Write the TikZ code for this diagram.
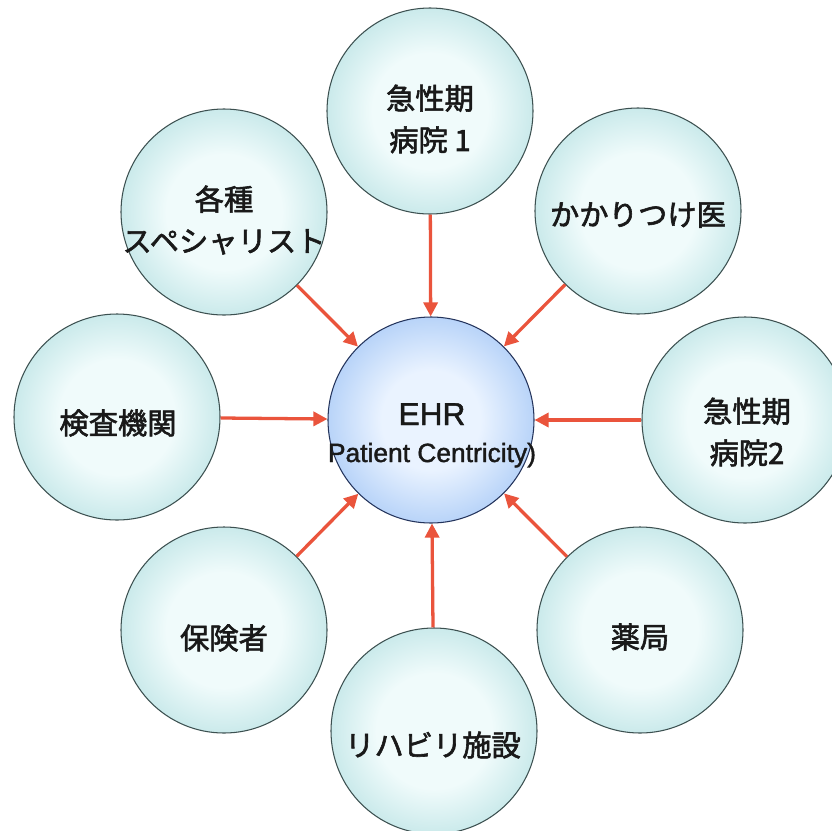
\documentclass[tikz,border=0pt]{standalone}
\usepackage{fontspec}
\setmainfont{Noto Sans CJK JP}[FakeBold=2]
\newfontfamily\latinsans{Liberation Sans}[FakeBold=1.5]
\usetikzlibrary{arrows.meta}
\definecolor{tealedge}{RGB}{120,184,188}
\definecolor{tealmid}{RGB}{172,220,222}
\definecolor{tealin}{RGB}{240,251,251}
\definecolor{ballline}{RGB}{60,80,80}
\definecolor{blueedge}{RGB}{86,136,226}
\definecolor{bluemid}{RGB}{150,190,244}
\definecolor{bluein}{RGB}{234,243,255}
\definecolor{blueline}{RGB}{36,52,92}
\definecolor{arrowred}{RGB}{234,84,60}
\definecolor{txtcol}{RGB}{25,25,25}
\pgfdeclareradialshading{tealball}{\pgfpoint{0bp}{0bp}}{color(0bp)=(tealin); color(14bp)=(tealin); color(34bp)=(tealmid); color(50bp)=(tealedge)}
\pgfdeclareradialshading{blueball}{\pgfpoint{0bp}{0bp}}{color(0bp)=(bluein); color(12bp)=(bluein); color(34bp)=(bluemid); color(50bp)=(blueedge)}
\tikzset{
  ball/.style={circle, draw=ballline, line width=0.9pt, minimum size=6.18cm, inner sep=0pt, shade, shading=tealball},
  hub/.style={circle, draw=blueline, line width=0.9pt, minimum size=6.18cm, inner sep=0pt, shade, shading=blueball},
  lbl/.style={font=\fontsize{25pt}{35.5pt}\selectfont, text=txtcol, align=center, inner sep=0pt},
  hubtxt/.style={font=\latinsans\fontsize{27pt}{30pt}\selectfont, text=txtcol, inner sep=0pt, anchor=base},
  hubsub/.style={font=\latinsans\fontsize{22.5pt}{26pt}\selectfont, text=txtcol, inner sep=0pt, anchor=base},
  flow/.style={draw=arrowred, line width=2.8pt, -{Triangle[length=12pt,width=12pt]}}
}
\begin{document}
\begin{tikzpicture}[x=0.03cm,y=-0.03cm]
\useasboundingbox (0,0) rectangle (832,830);
\fill[white] (0,0) rectangle (832,830);
\clip (0,0) rectangle (832,830);
% circles
\node[hub]  (c)  at (431,420) {};
\node[ball] (n1) at (430,111) {};
\node[ball] (n2) at (638,211) {};
\node[ball] (n3) at (745,420) {};
\node[ball] (n4) at (640,630) {};
\node[ball] (n5) at (434,731) {};
\node[ball] (n6) at (224,630) {};
\node[ball] (n7) at (117,417) {};
\node[ball] (n8) at (224,212) {};
% arrows
\foreach \n in {n1,n2,n3,n4,n5,n6,n7,n8} \draw[flow] (\n) -- (c);
% labels
\node[lbl] (t1) at (430,119) {急性期\\病院 1};
\node[lbl] (t2) at (638,215) {かかりつけ医};
\node[lbl] (t3) at (747,432) {急性期\\病院2};
\node[lbl] (t4) at (640,637) {薬局};
\node[lbl] (t5) at (433,745) {リハビリ施設};
\node[lbl] (t6) at (224,638) {保険者};
\node[lbl] (t7) at (118,423) {検査機関};
\node[lbl] (t8) at (224,220) {各種\\スペシャリスト};
\node[hubtxt] (ehr) at (432,425) {EHR};
\node[hubsub] (pc) at (432,462) {Patient Centricity)};
\end{tikzpicture}
\end{document}
